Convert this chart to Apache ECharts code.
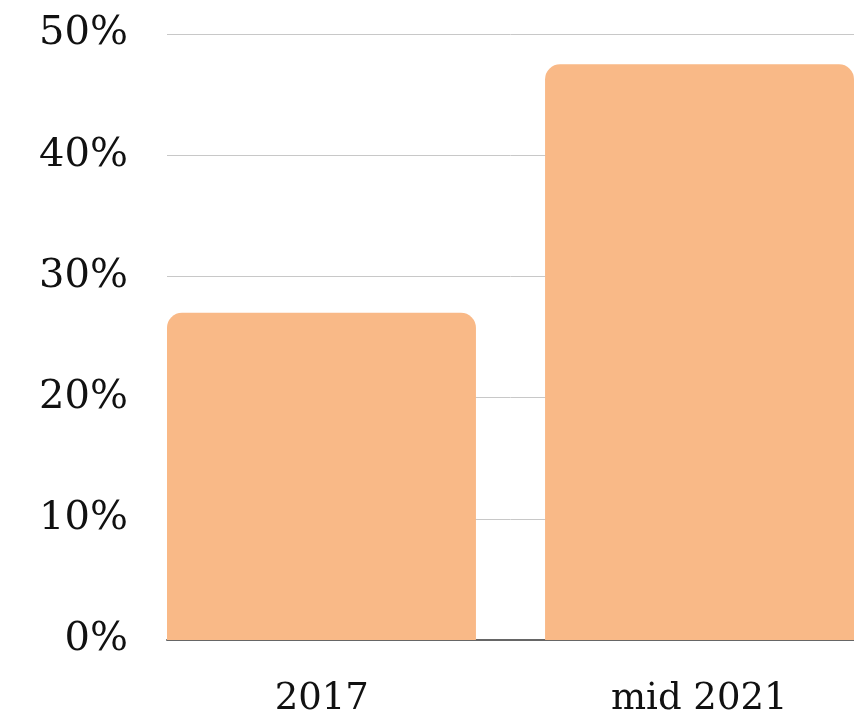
<!DOCTYPE html>
<html>
<head>
<meta charset="utf-8">
<script src="https://cdn.jsdelivr.net/npm/echarts@6/dist/echarts.min.js"></script>
<style>
  html, body { margin: 0; padding: 0; background: #fff; }
  #chart { width: 854px; height: 718px; }
</style>
</head>
<body>
<div id="chart"></div>
<script>
  // 数据
  const categories = ['2017', 'mid 2021'];
  const shareValues = [27.0, 47.5];
  const yTicks = [0, 10, 20, 30, 40, 50];

  const fontFamily = '"DejaVu Serif", "Liberation Serif", serif';
  const chart = echarts.init(document.getElementById('chart'));

  // 每个柱子单独一个系列，利用 barGap 让柱子向两侧偏移
  const barStyle = { color: '#f9b987', borderRadius: [15, 15, 0, 0] };
  const series = categories.map((c, i) => ({
    name: c,
    type: 'bar',
    data: shareValues.map((v, j) => (j === i ? v : null)),
    barWidth: 309,
    barGap: '-88.8%',
    itemStyle: barStyle,
  }));

  const option = {
    animation: false,
    grid: { left: 167, right: 0, top: 34, bottom: 78 },
    xAxis: {
      type: 'category',
      data: categories,
      axisLine: { show: true, lineStyle: { color: '#666', width: 2 } },
      axisTick: { show: false },
      axisLabel: {
        color: '#111',
        fontSize: 37,
        fontFamily: fontFamily,
        margin: 41,
        // 标签跟随柱子的偏移
        formatter: (v, i) => (i === 0 ? '{l|' + v + '}' : '{r|' + v + '}'),
        rich: {
          l: { fontSize: 37, fontFamily: fontFamily, color: '#111', padding: [0, 34, 0, 0] },
          r: { fontSize: 37, fontFamily: fontFamily, color: '#111', padding: [0, 0, 0, 34] },
        },
      },
    },
    yAxis: {
      type: 'value',
      min: yTicks[0],
      max: yTicks[yTicks.length - 1],
      interval: 10,
      axisLine: { show: false },
      axisTick: { show: false },
      splitLine: { lineStyle: { color: '#c8c8c8', width: 1 } },
      axisLabel: {
        color: '#111',
        fontSize: 40,
        fontFamily: fontFamily,
        margin: 39,
        formatter: (v) => v + '%',
      },
    },
    series: series,
  };

  chart.setOption(option);
  window.onresize = function () {
    chart.resize();
  };
</script>
</body>
</html>
